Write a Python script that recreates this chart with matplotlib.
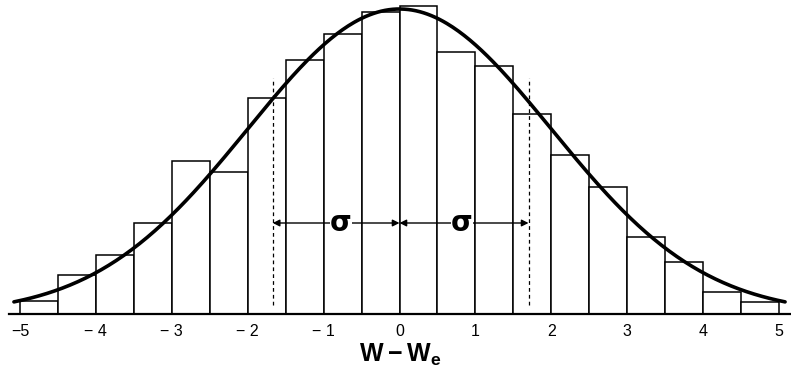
import numpy as np
import matplotlib
matplotlib.use("Agg")
import matplotlib.pyplot as plt

plt.rcParams['font.family'] = ['Liberation Sans', 'DejaVu Sans']
plt.rcParams['mathtext.fontset'] = 'custom'
plt.rcParams['mathtext.bf'] = 'Liberation Sans:bold'
plt.rcParams['mathtext.rm'] = 'Liberation Sans'

# histogram: bin left edges (width 0.5) and counts (arbitrary units)
bin_left = np.arange(-5.0, 5.0, 0.5)
counts = [13, 39, 59, 91, 153, 142, 216, 254, 280, 302,
          308, 262, 248, 200, 159, 127, 77, 52, 22, 12]

# fitted normal curve
peak = 305.0
sig_fit = 2.0
x_curve = np.linspace(-5.08, 5.08, 400)

# sigma markers
sig_left, sig_right = -1.67, 1.70
sig_label_x = [-0.77, 0.82]
arrow_h = 91
dash_top = 236

tick_pos = [-5, -4, -3, -2, -1, 0, 1, 2, 3, 4, 5]
tick_lab = ['\u22125', '\u2212 4', '\u2212 3', '\u2212 2', '\u2212 1',
            '0', '1', '2', '3', '4', '5']

fig = plt.figure(figsize=(7.91, 3.78), dpi=100)
ax = fig.add_axes([0, 1 - 314/378, 1, 314/378])
ax.set_xlim(-399.5/75.9, (791 - 399.5)/75.9)
ax.set_ylim(0, 314)

ax.bar(bin_left, counts, width=0.5, align='edge', facecolor='white',
       edgecolor='black', linewidth=1.1, zorder=2)

y_curve = peak*np.exp(-x_curve**2/(2*sig_fit**2))
ax.plot(x_curve, y_curve, color='black', lw=2.6, solid_capstyle='round', zorder=4)

ax.plot([-5.14, 5.14], [0, 0], color='black', lw=1.6, zorder=5, clip_on=False)

for xs in (sig_left, sig_right):
    ax.plot([xs, xs], [9, dash_top], color='black', lw=0.9, ls=(0, (3, 2.5)), zorder=3)

for (x0, x1), xl in zip(((sig_left, 0), (0, sig_right)), sig_label_x):
    ax.annotate('', xy=(x0, arrow_h), xytext=(x1, arrow_h),
                arrowprops=dict(arrowstyle='<|-|>', color='black', lw=1.0,
                                mutation_scale=10, shrinkA=0, shrinkB=0), zorder=5)
    ax.text(xl, arrow_h, '\u03c3', ha='center', va='center',
            fontsize=20, fontweight='bold', family='DejaVu Sans',
            bbox=dict(facecolor='white', edgecolor='none', pad=0.3), zorder=6)

ax.set_xticks(tick_pos)
ax.set_xticklabels(tick_lab, fontsize=11.5)
ax.tick_params(axis='x', length=0, pad=7)
ax.set_yticks([])
for s in ax.spines.values():
    s.set_visible(False)

fig.text(400/791, 1 - 355/378, r'$\mathbf{W - W_e}$', ha='center', va='center',
         fontsize=18)

fig.savefig('out.png', dpi=100)
